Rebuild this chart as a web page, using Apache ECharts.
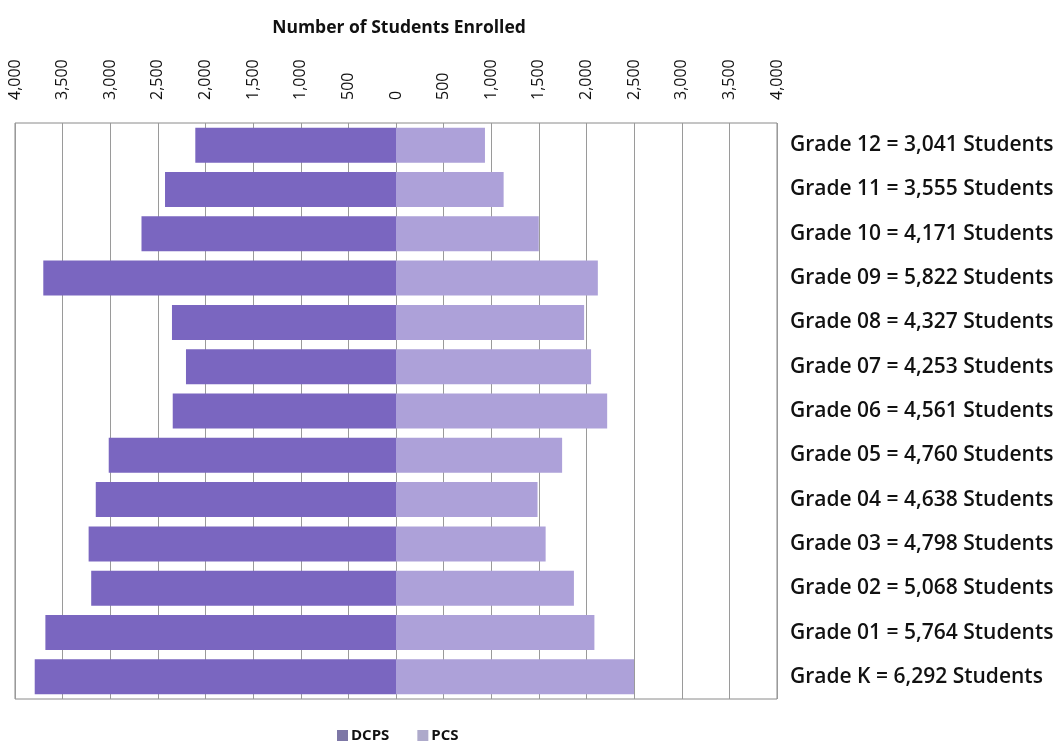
<!DOCTYPE html>
<html>
<head>
<meta charset="utf-8">
<title>Number of Students Enrolled</title>
<script src="https://cdn.jsdelivr.net/npm/echarts@6/dist/echarts.min.js"></script>
<style>
  html, body { margin: 0; padding: 0; background: #ffffff; }
  #chart { width: 1061px; height: 741px; }
</style>
</head>
<body>
<div id="chart"></div>
<script>
// Grades listed top to bottom
const grades = ['Grade 12', 'Grade 11', 'Grade 10', 'Grade 09', 'Grade 08', 'Grade 07',
  'Grade 06', 'Grade 05', 'Grade 04', 'Grade 03', 'Grade 02', 'Grade 01', 'Grade K'];

// Enrollment by sector
const dcps = [2107, 2425, 2672, 3703, 2352, 2205, 2344, 3016, 3152, 3227, 3200, 3681, 3793];
const pcs  = [934, 1130, 1499, 2119, 1975, 2048, 2217, 1744, 1486, 1571, 1868, 2083, 2499];

const seriesNames = ['DCPS', 'PCS'];
const axisTitle = 'Number of Students Enrolled';

const fmt = n => Math.abs(n).toLocaleString('en-US');
const totals = dcps.map((v, i) => v + pcs[i]);
const rowLabels = grades.map((g, i) => g + ' = ' + fmt(totals[i]) + ' Students');

const chart = echarts.init(document.getElementById('chart'), null, { renderer: 'canvas' });

chart.setOption({
  backgroundColor: '#ffffff',
  animation: false,
  title: {
    text: axisTitle,
    left: 394,
    top: 14,
    textAlign: 'center',
    textStyle: { fontFamily: 'Open Sans', fontWeight: 700, fontSize: 17.5, color: '#111' }
  },
  legend: {
    data: [
      { name: seriesNames[0], itemStyle: { color: '#7d77a6' } },
      { name: seriesNames[1], itemStyle: { color: '#aeaacb' } }
    ],
    left: 332,
    top: 723,
    icon: 'rect',
    itemWidth: 11,
    itemHeight: 11,
    itemGap: 28,
    textStyle: { fontFamily: 'Open Sans', fontWeight: 700, fontSize: 15, color: '#111', padding: [0, 0, 0, -2] }
  },
  grid: {
    left: 15,
    top: 123,
    width: 762,
    height: 576,
    show: true,
    borderColor: '#8a8a8a',
    borderWidth: 1,
    backgroundColor: 'transparent'
  },
  xAxis: {
    type: 'value',
    position: 'top',
    min: -4000,
    max: 4000,
    interval: 500,
    axisLine: { show: false },
    axisTick: { show: false },
    splitLine: { show: true, lineStyle: { color: '#9a9a9a', width: 1 } },
    axisLabel: {
      rotate: -90,
      margin: 23,
      fontFamily: 'Open Sans',
      fontSize: 16,
      color: '#111',
      formatter: v => fmt(v)
    }
  },
  yAxis: {
    type: 'category',
    data: rowLabels,
    inverse: true,
    position: 'right',
    axisLine: { show: false },
    axisTick: { show: false },
    splitLine: { show: false },
    axisLabel: {
      margin: 13,
      fontFamily: 'Open Sans',
      fontWeight: 600,
      fontSize: 21,
      color: '#111'
    }
  },
  series: [
    {
      name: seriesNames[0],
      type: 'bar',
      stack: 'enrolled',
      barWidth: '79%',
      itemStyle: { color: '#7a66c0' },
      data: dcps.map(v => -v)
    },
    {
      name: seriesNames[1],
      type: 'bar',
      stack: 'enrolled',
      barWidth: '79%',
      itemStyle: { color: '#ada1d9' },
      data: pcs
    }
  ]
});
</script>
</body>
</html>
